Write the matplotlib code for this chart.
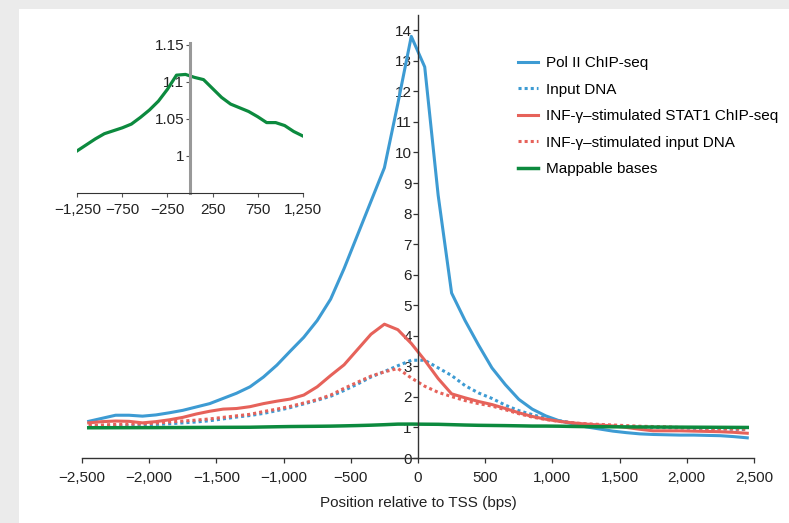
import matplotlib
matplotlib.use("Agg")
import matplotlib.pyplot as plt
import numpy as np
from matplotlib.patches import Rectangle
from matplotlib.ticker import FuncFormatter

plt.rcParams["font.family"] = ["Liberation Sans", "DejaVu Sans"]

# bin centres (bp relative to TSS)
positions = np.arange(-2450, 2451, 100)

pol2 = [1.20, 1.30, 1.40, 1.40, 1.37, 1.41, 1.48, 1.56, 1.67, 1.78,
        1.95, 2.12, 2.33, 2.65, 3.04, 3.50, 3.95, 4.50, 5.20, 6.20,
        7.30, 8.40, 9.50, 11.60, 13.80, 12.80, 8.60, 5.40, 4.50, 3.70,
        2.95, 2.40, 1.92, 1.60, 1.38, 1.22, 1.12, 1.02, 0.95, 0.88,
        0.83, 0.79, 0.77, 0.76, 0.75, 0.75, 0.74, 0.73, 0.70, 0.66]
input_dna = [1.04, 1.05, 1.05, 1.06, 1.08, 1.10, 1.12, 1.15, 1.18, 1.22,
             1.28, 1.34, 1.39, 1.46, 1.55, 1.65, 1.77, 1.89, 2.02, 2.21,
             2.42, 2.65, 2.83, 3.02, 3.20, 3.20, 2.95, 2.70, 2.37, 2.13,
             1.95, 1.73, 1.55, 1.42, 1.30, 1.22, 1.15, 1.10, 1.07, 1.05,
             1.03, 1.01, 1.00, 0.99, 0.98, 0.97, 0.96, 0.95, 0.94, 0.93]
stat1 = [1.15, 1.19, 1.21, 1.20, 1.15, 1.19, 1.25, 1.33, 1.44, 1.53,
         1.60, 1.62, 1.68, 1.78, 1.86, 1.93, 2.06, 2.33, 2.70, 3.05,
         3.55, 4.05, 4.38, 4.20, 3.75, 3.20, 2.60, 2.10, 1.97, 1.85,
         1.75, 1.62, 1.48, 1.36, 1.27, 1.20, 1.15, 1.11, 1.08, 1.05,
         1.00, 0.94, 0.89, 0.89, 0.89, 0.88, 0.87, 0.86, 0.84, 0.81]
stim_input = [1.07, 1.08, 1.10, 1.11, 1.12, 1.14, 1.18, 1.21, 1.24, 1.28,
              1.33, 1.38, 1.43, 1.52, 1.60, 1.69, 1.80, 1.91, 2.06, 2.28,
              2.48, 2.68, 2.82, 2.93, 2.62, 2.35, 2.15, 2.01, 1.88, 1.78,
              1.70, 1.58, 1.45, 1.34, 1.26, 1.20, 1.15, 1.12, 1.10, 1.08,
              1.06, 1.04, 1.03, 1.02, 1.00, 0.99, 0.97, 0.96, 0.95, 0.94]
mappable = [0.990, 0.991, 0.992, 0.993, 0.994, 0.995, 0.997, 0.998, 1.000, 1.002,
            1.004, 1.005, 1.007, 1.015, 1.023, 1.030, 1.034, 1.038, 1.043, 1.052,
            1.062, 1.074, 1.090, 1.109, 1.110, 1.106, 1.103, 1.091, 1.079, 1.070,
            1.065, 1.060, 1.053, 1.045, 1.045, 1.041, 1.033, 1.027, 1.024, 1.021,
            1.018, 1.016, 1.014, 1.012, 1.010, 1.008, 1.006, 1.004, 1.002, 1.000]

labels = ["Pol II ChIP-seq", "Input DNA", "INF-\u03b3\u2013stimulated STAT1 ChIP-seq",
          "INF-\u03b3\u2013stimulated input DNA", "Mappable bases"]
main_xticks = [-2500, -2000, -1500, -1000, -500, 0, 500, 1000, 1500, 2000, 2500]
inset_xticks = [-1250, -750, -250, 250, 750, 1250]
inset_yticks = [1, 1.05, 1.1, 1.15]

BLUE, RED, GREEN = "#3d9bd3", "#e6625a", "#0c8a3e"
W, H = 789, 523
FS = 11


def thousands(v, _pos):
    s = f"{abs(v):,.0f}"
    return ("\u2212" + s) if v < 0 else s


fig = plt.figure(figsize=(W / 100, H / 100), dpi=100, facecolor="#ebebeb")
fig.patches.append(Rectangle((19 / W, 0), 1, 1 - 9 / H, transform=fig.transFigure,
                             facecolor="white", edgecolor="none", zorder=-10))

ax = fig.add_axes([82 / W, 1 - 458 / H, 672 / W, 443 / H])
ax.patch.set_alpha(0)
dot = (0, (1, 1))
ax.plot(positions, pol2, color=BLUE, lw=2.2, label=labels[0])
ax.plot(positions, input_dna, color=BLUE, lw=2.2, ls=dot, label=labels[1])
ax.plot(positions, stat1, color=RED, lw=2.2, label=labels[2])
ax.plot(positions, stim_input, color=RED, lw=2.2, ls=dot, label=labels[3])
ax.plot(positions, mappable, color=GREEN, lw=2.5, label=labels[4])
ax.set_xlim(-2500, 2500)
ax.set_ylim(0, 14.5)
ax.set_xticks(main_xticks)
ax.set_yticks(range(0, 15))
ax.xaxis.set_major_formatter(FuncFormatter(thousands))
for side in ("top", "right"):
    ax.spines[side].set_visible(False)
ax.spines["left"].set_position(("data", 0))
for side in ("left", "bottom"):
    ax.spines[side].set_color("#333333")
    ax.spines[side].set_linewidth(1.0)
ax.tick_params(axis="both", length=3.5, width=0.9, color="#333333", labelsize=FS,
               labelcolor="#222222")
ax.tick_params(axis="x", pad=6)
ax.tick_params(axis="y", pad=1)
ax.set_xlabel("Position relative to TSS (bps)", fontsize=FS, color="#222222", labelpad=8)
ax.legend(loc="upper left", bbox_to_anchor=(518 / W, 1 - 56 / H),
          bbox_transform=fig.transFigure, frameon=False, fontsize=FS,
          handlelength=1.3, handletextpad=0.55, labelspacing=0.82,
          borderpad=0, borderaxespad=0)

# inset: mappable bases around the TSS
ins = fig.add_axes([77.3 / W, 1 - 193 / H, 225.4 / W, 149.7 / H])
ins.patch.set_alpha(0)
keep = (positions >= -1250) & (positions <= 1250)
ins.plot(positions[keep], np.array(mappable)[keep], color=GREEN, lw=2.3)
ins.set_xlim(-1250, 1250)
ins.set_ylim(0.95, 1.152)
ins.set_xticks(inset_xticks)
ins.set_yticks(inset_yticks)
ins.set_yticklabels(["1", "1.05", "1.1", "1.15"])
ins.xaxis.set_major_formatter(FuncFormatter(thousands))
for side in ("top", "right"):
    ins.spines[side].set_visible(False)
ins.spines["left"].set_position(("data", 0))
ins.spines["left"].set_color("#999999")
ins.spines["left"].set_linewidth(2.2)
ins.spines["bottom"].set_color("#333333")
ins.tick_params(axis="both", length=3, width=0.8, color="#555555", labelsize=FS,
                labelcolor="#222222")
ins.tick_params(axis="x", pad=4)
ins.tick_params(axis="y", pad=1)

fig.savefig("out.png", dpi=100, facecolor=fig.get_facecolor())
